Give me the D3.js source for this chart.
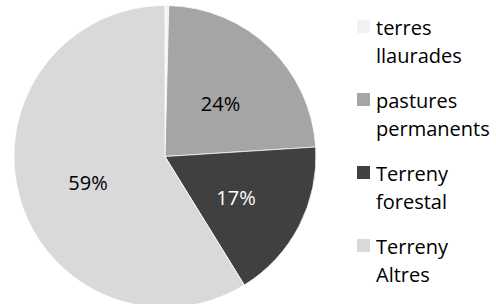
<!DOCTYPE html>
<html>
<head>
<meta charset="utf-8">
<script src="https://cdn.jsdelivr.net/npm/d3@7"></script>
<style>
  body { margin: 0; background: #fff; }
  text { font-family: "Open Sans", sans-serif; }
</style>
</head>
<body>
<svg width="496" height="304"></svg>
<script>
var categories = ["terres llaurades", "pastures permanents", "Terreny forestal", "Terreny Altres"];
var legendLines = [["terres", "llaurades"], ["pastures", "permanents"], ["Terreny", "forestal"], ["Terreny", "Altres"]];
var values = [0.4, 23.6, 17.2, 58.8];
var colors = ["#f2f2f2", "#a5a5a5", "#404040", "#d9d9d9"];
var labelColors = ["#000", "#000", "#fff", "#000"];

var svg = d3.select("svg"),
    radius = 151;

var data = categories.map(function(c, i) { return {name: c, value: values[i], i: i}; });

var pie = d3.pie()
    .sort(null)
    .value(function(d) { return d.value; });

var arc = d3.arc().innerRadius(0).outerRadius(radius);
var labelArc = d3.arc().innerRadius(0).outerRadius(160);

var g = svg.append("g")
    .attr("transform", "translate(165,156.5)");

var arcs = pie(data);

g.selectAll("path")
    .data(arcs)
    .enter().append("path")
    .attr("d", arc)
    .attr("fill", function(d) { return colors[d.data.i]; })
    .attr("stroke", "#fff")
    .attr("stroke-width", 0.75);

g.selectAll("text")
    .data(arcs.filter(function(d) { return d.data.value >= 1; }))
    .enter().append("text")
    .attr("transform", function(d) { return "translate(" + labelArc.centroid(d) + ")"; })
    .attr("text-anchor", "middle")
    .attr("dy", "0.6em")
    .attr("font-size", 20)
    .attr("fill", function(d) { return labelColors[d.data.i]; })
    .text(function(d) { return Math.round(d.data.value) + "%"; });

var legend = svg.append("g")
    .attr("class", "legend")
    .attr("transform", "translate(357,20)");

var item = legend.selectAll("g")
    .data(legendLines)
    .enter().append("g")
    .attr("transform", function(d, i) { return "translate(0," + (i * 73) + ")"; });

item.append("rect")
    .attr("width", 13)
    .attr("height", 13)
    .attr("fill", function(d, i) { return colors[i]; });

item.selectAll("text")
    .data(function(d) { return d; })
    .enter().append("text")
    .attr("x", 19)
    .attr("y", function(d, j) { return 15 + j * 28; })
    .attr("font-size", 20)
    .attr("fill", "#000")
    .text(function(d) { return d; });
</script>
</body>
</html>
